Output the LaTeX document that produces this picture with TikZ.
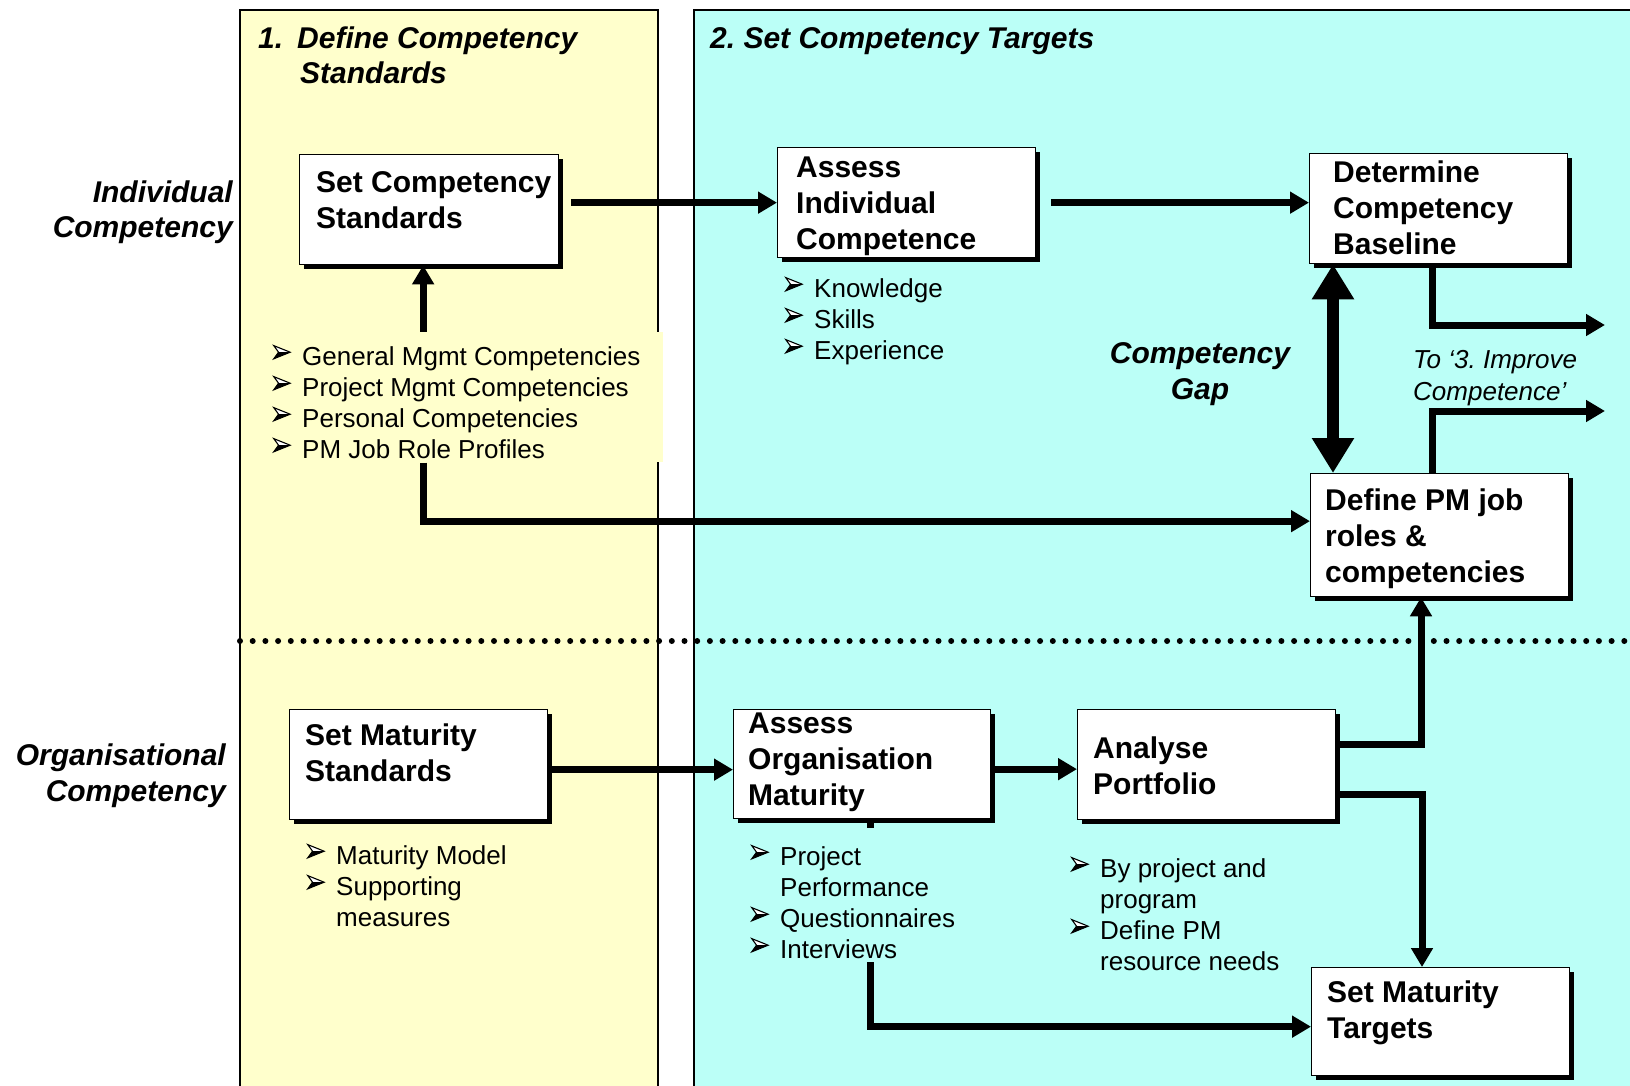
\documentclass[tikz,border=0pt]{standalone}
\usepackage{fontspec}
\setmainfont{Liberation Sans}
\usetikzlibrary{arrows.meta,shadows}
\frenchspacing

\definecolor{panelyellow}{RGB}{255,255,204}
\definecolor{panelcyan}{RGB}{187,255,247}

\pgfdeclarelayer{panels}
\pgfdeclarelayer{wires}
\pgfsetlayers{panels,wires,main}

% multi-line text whose first baseline sits one strut below the node top
\newcommand\btxt[1]{\parbox[t]{300pt}{\strut#1}}
% arrowhead list bullet (outlined upper half, solid lower half) and hanging indent
\newcommand\bul{\makebox[29pt][l]{\tikz[x=1pt,y=1pt,baseline=0pt]{%
  \draw[draw=black,fill=white,line width=1.1pt,line join=miter]
    (0.6,19.6) -- (17,13) -- (0.6,6.4) -- (5.4,13) -- cycle;
  \fill[fill=black] (5.4,13) -- (17,13) -- (0.6,6.4) -- cycle;}}}
\newcommand\indl{\hspace*{29pt}}

\begin{document}
\begin{tikzpicture}[x=1pt,y=-1pt,
  panelline/.style={draw=black,line width=1.3pt},
  dotline/.style={line width=6pt,line cap=round,dash pattern=on 0pt off 12.7pt},
  procbox/.style={draw=black,line width=1.3pt,fill=white,anchor=north west,inner sep=0pt,
    drop shadow={shadow xshift=4.5pt,shadow yshift=-4.5pt,fill=black,opacity=1}},
  boxtext/.style={anchor=north west,inner sep=0pt,font=\fontsize{30}{36}\selectfont\bfseries},
  listtext/.style={anchor=north west,inner xsep=6pt,inner ysep=4pt,font=\fontsize{26}{31}\selectfont},
  headtext/.style={inner sep=0pt,font=\fontsize{30}{35}\selectfont\bfseries\itshape},
  conn/.style={line width=7pt,-{Triangle[length=19pt,width=21pt]}},
  gaparrow/.style={line width=12.5pt,{Triangle[length=35pt,width=40pt]}-{Triangle[length=35pt,width=40pt]}}]

\useasboundingbox (0,0) rectangle (1630,1085);

% the two stage panels and the divider between individual and organisational rows
\begin{pgfonlayer}{panels}
  \fill[white] (0,0) rectangle (1630,1085);
  \draw[panelline,fill=panelyellow] (240,10) rectangle (658,1100);
  \draw[panelline,fill=panelcyan] (694,10) rectangle (1650,1100);
  \draw[dotline] (240,641) -- (1630,641);
\end{pgfonlayer}

% stage headings and row labels
\node[headtext,anchor=north west] (title1) at (258,23.5)
  {\parbox[t]{400pt}{\strut\makebox[39pt][l]{1.}Define Competency\\\hspace*{42pt}Standards}};
\node[headtext,anchor=north west] (title2) at (710,23.5)
  {\parbox[t]{500pt}{\strut 2. Set Competency Targets}};
\node[headtext,anchor=north east] (lab-ind) at (233,177.5)
  {\parbox[t]{250pt}{\raggedleft\strut Individual\\Competency}};
\node[headtext,anchor=north east,font=\fontsize{30}{36}\selectfont\bfseries\itshape] (lab-org) at (226,739.8)
  {\parbox[t]{250pt}{\raggedleft\strut Organisational\\Competency}};

% process boxes
\node[procbox,minimum width=259pt,minimum height=110pt] (scs) at (299,154) {};
\node[boxtext] (scs-t) at (316,166.8) {\btxt{Set Competency\\Standards}};

\node[procbox,minimum width=258pt,minimum height=110pt] (aic) at (777,147) {};
\node[boxtext] (aic-t) at (796,151.8) {\btxt{Assess\\Individual\\Competence}};

\node[procbox,minimum width=258pt,minimum height=110pt] (dcb) at (1309,153) {};
\node[boxtext] (dcb-t) at (1333,156.8) {\btxt{Determine\\Competency\\Baseline}};

\node[procbox,minimum width=258pt,minimum height=123pt] (dpm) at (1310,473) {};
\node[boxtext] (dpm-t) at (1325,484.8) {\btxt{Define PM job\\roles \&\\competencies}};

\node[procbox,minimum width=258pt,minimum height=110pt] (sms) at (289,709) {};
\node[boxtext] (sms-t) at (305,719.8) {\btxt{Set Maturity\\Standards}};

\node[procbox,minimum width=257pt,minimum height=109pt] (aom) at (733,709) {};
\node[boxtext] (aom-t) at (748,707.8) {\btxt{Assess\\Organisation\\Maturity}};

\node[procbox,minimum width=258pt,minimum height=110pt] (ap) at (1077,709) {};
\node[boxtext] (ap-t) at (1093,732.8) {\btxt{Analyse\\Portfolio}};

\node[procbox,minimum width=258pt,minimum height=108pt] (smt) at (1311,967) {};
\node[boxtext] (smt-t) at (1327,976.8) {\btxt{Set Maturity\\Targets}};

% bullet lists (filled so that they sit over the connectors running behind them)
\node[listtext,fill=panelyellow] (l1) at (267,332)
  {\parbox[t]{384pt}{\vspace*{7.3pt}\strut\bul General Mgmt Competencies\\\bul Project Mgmt Competencies\\\bul Personal Competencies\\\bul PM Job Role Profiles}};
\node[listtext,fill=panelcyan] (l-aic) at (779,271.3)
  {\parbox[t]{200pt}{\strut\bul Knowledge\\\bul Skills\\\bul Experience}};
\node[listtext,fill=panelyellow] (l-sms) at (301,838.3)
  {\parbox[t]{200pt}{\strut\bul Maturity Model\\\bul Supporting\\\indl measures}};
\node[listtext,fill=panelcyan] (l-aom) at (745,828)
  {\parbox[t]{200pt}{\vspace*{11.3pt}\strut\bul Project\\\indl Performance\\\bul Questionnaires\\\bul Interviews}};
\node[listtext,fill=panelcyan] (l-ap) at (1065,851.3)
  {\parbox[t]{230pt}{\strut\bul By project and\\\indl program\\\bul Define PM\\\indl resource needs}};

% free labels
\node[anchor=north,inner sep=0pt,font=\fontsize{30}{36}\selectfont\bfseries\itshape] (gap-lab) at (1200,337.8)
  {\parbox[t]{220pt}{\centering\strut Competency\\Gap}};
\node[anchor=north west,inner sep=0pt,font=\fontsize{26}{32}\selectfont\itshape] (to3) at (1413,345.6)
  {\parbox[t]{250pt}{\strut To ‘3. Improve\\Competence’}};

% connector end points
\coordinate (scs-out) at ([xshift=12pt]scs.east);
\coordinate (aic-out) at ([xshift=15pt]aic.east);
\coordinate (gapT) at ([xshift=24pt]dcb.south west);
\coordinate (out1) at (1605,325);
\coordinate (out2) at (1605,411);
\coordinate (l1x) at ([xshift=-6pt]scs.south);
\coordinate (sms-out) at ([yshift=-5pt]sms.east);
\coordinate (aom-out) at ([yshift=-5pt]aom.east);
\coordinate (ap-up) at ([yshift=20pt]ap.east);
\coordinate (ap-down) at ([yshift=-30pt]ap.east);
\coordinate (dpm-in) at ([xshift=111pt]dpm.south west);
\coordinate (aom-down) at ([xshift=8pt]aom.south);

\begin{pgfonlayer}{wires}
  \draw[conn] (scs-out |- aic.west) -- (aic.west);
  \draw[conn] (aic-out) -- (aic-out -| dcb.west);
  \draw[gaparrow] (gapT) -- (gapT |- dpm.north);
  \draw[conn] ([xshift=123pt]dcb.south west) |- (out1);
  \draw[conn] ([xshift=122pt]dpm.north west) |- (out2);
  \draw[conn] (l1x |- l1.north) -- (l1x);
  \draw[conn] (l1x |- l1.south) |- ([yshift=14pt]dpm.west);
  \draw[conn] (sms-out) -- (sms-out -| aom.west);
  \draw[conn] (aom-out) -- (aom-out -| ap.west);
  \draw[conn] (ap-up) -| (dpm-in);
  \draw[conn] (ap-down) -| ([xshift=111pt]smt.north west);
  \draw[conn] (aom-down) |- ([yshift=-5pt]smt.west);
\end{pgfonlayer}
\end{tikzpicture}
\end{document}
